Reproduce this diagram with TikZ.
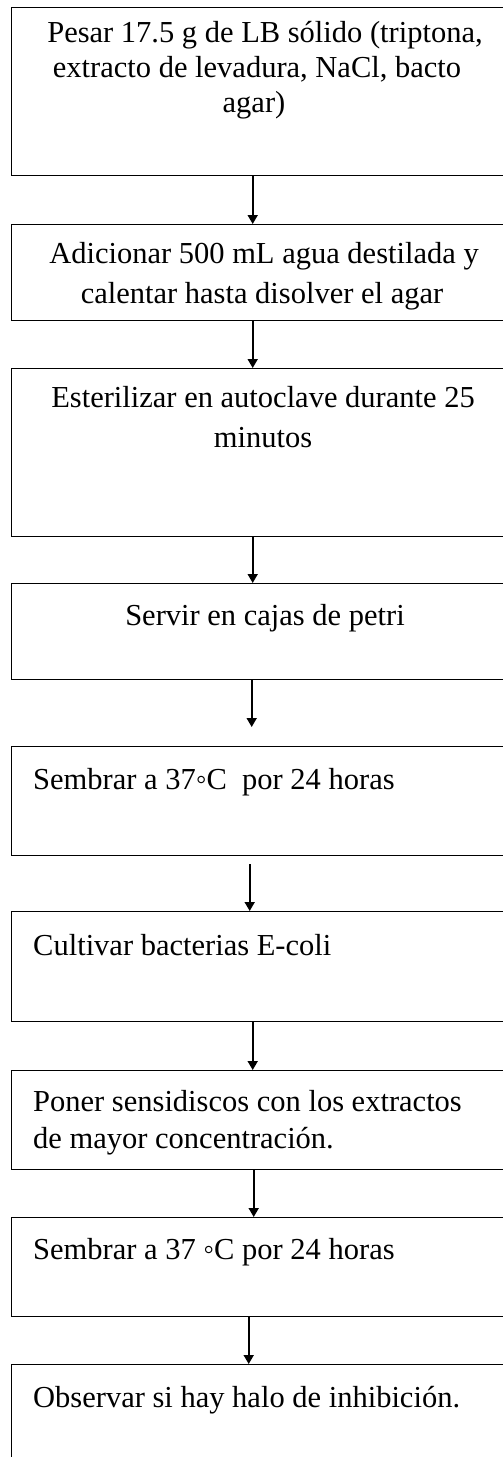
\documentclass[tikz,border=0pt]{standalone}
\usepackage{fontspec}
\setmainfont{Liberation Serif}
\usetikzlibrary{arrows.meta}
\begin{document}
\begin{tikzpicture}[x=1pt,y=-1pt,
  box/.style={draw, line width=1.4pt, rectangle, anchor=north west, inner sep=0pt, minimum width=506pt},
  txt/.style={inner sep=0pt, font=\fontsize{30.5}{37}\selectfont},
  ctxt/.style={txt, anchor=base},
  ltxt/.style={txt, anchor=base west},
  arr/.style={line width=1.7pt, -{Triangle[width=10pt,length=9pt]}}]
\useasboundingbox (0,0) rectangle (503,1457);
\fill[white] (0,0) rectangle (503,1457);
\clip (0,0) rectangle (503,1457);
% boxes
\node[box, minimum height=168pt] (b1) at (11,7) {};
\node[box, minimum height=96pt]  (b2) at (11,224) {};
\node[box, minimum height=168pt] (b3) at (11,368) {};
\node[box, minimum height=96pt]  (b4) at (11,583) {};
\node[box, minimum height=109pt] (b5) at (11,746) {};
\node[box, minimum height=110pt] (b6) at (11,911) {};
\node[box, minimum height=99pt]  (b7) at (11,1070) {};
\node[box, minimum height=99pt]  (b8) at (11,1217) {};
\node[box, minimum height=160pt] (b9) at (11,1364) {};
% texts
\node[ctxt] (t1a) at (265,42) {Pesar 17.5 g de LB sólido\ (triptona,};
\node[ctxt] (t1b) at (257,77) {extracto de levadura,\ NaCl, bacto};
\node[ctxt] (t1c) at (254,112) {agar)};
\node[ctxt] (t2a) at (264,263) {Adicionar\ 500 mL agua destilada y};
\node[ctxt] (t2b) at (262,303) {calentar hasta disolver el agar};
\node[ctxt] (t3a) at (263,407) {Esterilizar\ en autoclave durante 25};
\node[ctxt] (t3b) at (263,447) {minutos};
\node[ctxt] (t4a) at (265,625) {Servir\ en cajas de petri};
\node[ltxt] (t5a) at (33,789) {Sembrar a 37◦C\ \ por 24 horas};
\node[ltxt] (t6a) at (33,955) {Cultivar\ bacterias\ E-coli};
\node[ltxt] (t7a) at (33,1111) {Poner sensidiscos\ con los extractos};
\node[ltxt] (t7b) at (33,1148) {de mayor\ concentración.};
\node[ltxt] (t8a) at (33,1259) {Sembrar a 37 ◦C por 24 horas};
\node[ltxt] (t9a) at (33,1407) {Observar si hay halo\ de inhibición.};
% arrows
\draw[arr] ([xshift=-12pt]b1.south) -- ([xshift=-12pt]b2.north);
\draw[arr] ([xshift=-12pt]b2.south) -- ([xshift=-12pt]b3.north);
\draw[arr] ([xshift=-12pt]b3.south) -- ([xshift=-12pt]b4.north);
\draw[arr] ([xshift=-13pt]b4.south) -- ([xshift=-13pt,yshift=19pt]b5.north);
\draw[arr] ([xshift=-15pt,yshift=-8pt]b5.south) -- ([xshift=-15pt]b6.north);
\draw[arr] ([xshift=-12pt]b6.south) -- ([xshift=-12pt]b7.north);
\draw[arr] ([xshift=-11pt]b7.south) -- ([xshift=-11pt]b8.north);
\draw[arr] ([xshift=-16pt]b8.south) -- ([xshift=-16pt]b9.north);
\end{tikzpicture}
\end{document}
